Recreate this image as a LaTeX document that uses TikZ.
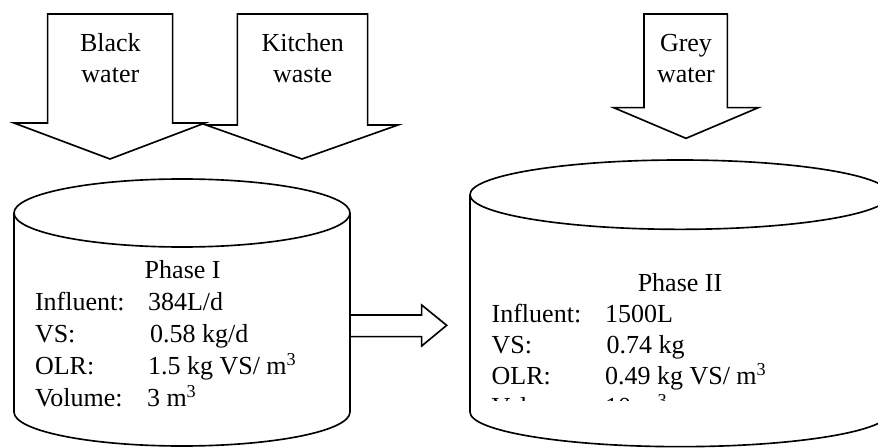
\documentclass[tikz,border=0pt]{standalone}
\usepackage{fontspec}
\setmainfont{Liberation Serif}
\usetikzlibrary{positioning}

\begin{document}
\begin{tikzpicture}[
  x=1cm,
  y=1cm,
  every node/.style={inner sep=0pt, outer sep=0pt},
  txt/.style={font=\fontsize{22.2}{26.4}\selectfont, text=black},
  arrowtxt/.style={txt, align=center},
  outline/.style={draw=black, line width=1.4pt, line join=miter}
]

  \clip (0,0) rectangle (26.34,13.41);

  % Inflow arrows
  \draw[outline] (1.43,12.99) -- (5.18,12.99) -- (5.18,9.72) -- (6.15,9.72)
    -- (3.30,8.64) -- (0.42,9.72) -- (1.43,9.72) -- cycle;
  \node[arrowtxt] (blackwater) at (3.31,11.66) {Black\\water};

  \draw[outline] (7.12,12.99) -- (11.03,12.99) -- (11.03,9.66) -- (11.94,9.66)
    -- (9.06,8.64) -- (6.18,9.66) -- (7.12,9.66) -- cycle;
  \node[arrowtxt] (kitchen) at (9.08,11.66) {Kitchen\\waste};

  \draw[outline] (19.32,12.99) -- (21.82,12.99) -- (21.82,10.18) -- (22.75,10.18)
    -- (20.58,9.26) -- (18.41,10.18) -- (19.32,10.18) -- cycle;
  \node[arrowtxt] (greywater) at (20.58,11.66) {Grey\\water};

  % Phase I tank
  \draw[outline] (5.46,7.02) ellipse (5.04 and 1.02);
  \draw[outline] (0.42,7.02) -- (0.42,1.05)
    arc[start angle=180, end angle=360, x radius=5.04, y radius=1.02] -- (10.50,7.02);

  \node[txt, anchor=base] (phaseone) at (5.48,5.05) {Phase I};
  \node[txt, anchor=base west] (infone) at (1.05,4.09) {Influent:};
  \node[txt, anchor=base west] (vsone) at (1.05,3.13) {VS:};
  \node[txt, anchor=base west] (olrone) at (1.05,2.17) {OLR:};
  \node[txt, anchor=base west] (volone) at (1.05,1.21) {Volume:};
  \node[txt, anchor=base west] at (4.44,4.09) {384L/d};
  \node[txt, anchor=base west] at (4.50,3.13) {0.58 kg/d};
  \node[txt, anchor=base west] at (4.44,2.17) {1.5 kg VS/ m\textsuperscript{3}};
  \node[txt, anchor=base west] at (4.41,1.21) {3 m\textsuperscript{3}};

  % Transfer arrow
  \draw[outline] (10.50,3.96) -- (12.65,3.96) -- (12.65,4.26) -- (13.40,3.65)
    -- (12.65,3.03) -- (12.65,3.31) -- (10.50,3.31) -- cycle;

  % Phase II tank
  \draw[outline] (20.40,7.57) ellipse (6.30 and 1.04);
  \draw[outline] (14.10,7.57) -- (14.10,1.05)
    arc[start angle=180, end angle=360, x radius=6.30, y radius=1.04] -- (26.70,7.57);

  \node[txt, anchor=base] (phasetwo) at (20.40,4.66) {Phase II};
  \node[txt, anchor=base west] (inftwo) at (14.75,3.73) {Influent:};
  \node[txt, anchor=base west] (vstwo) at (14.75,2.80) {VS:};
  \node[txt, anchor=base west] (olrtwo) at (14.75,1.87) {OLR:};
  \node[txt, anchor=base west] at (18.15,3.73) {1500L};
  \node[txt, anchor=base west] at (18.20,2.80) {0.74 kg};
  \node[txt, anchor=base west] at (18.15,1.87) {0.49 kg VS/ m\textsuperscript{3}};

  \begin{scope}
    \clip (14.3,1.39) rectangle (26.0,1.80);
    \node[txt, anchor=base west] (voltwo) at (14.75,0.94) {Volume:};
    \node[txt, anchor=base west] at (18.15,0.94) {10 m\textsuperscript{3}};
  \end{scope}

\end{tikzpicture}
\end{document}
